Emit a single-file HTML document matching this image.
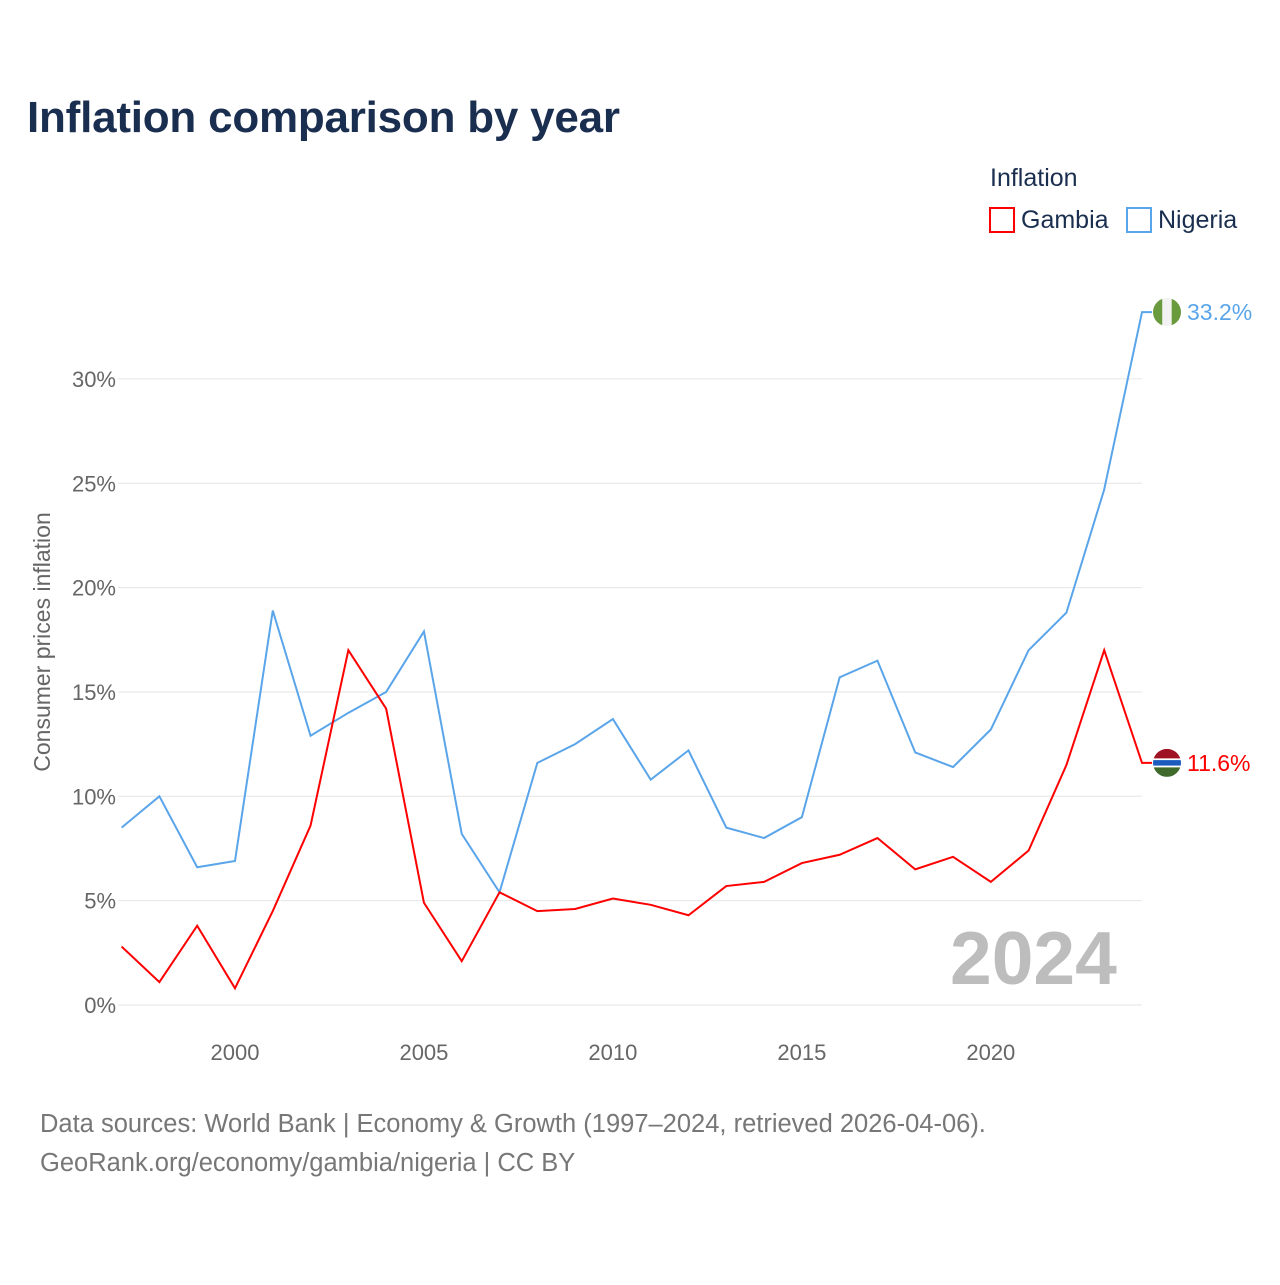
<!DOCTYPE html>
<html><head><meta charset="utf-8"><style>
body{margin:0;background:#fff;font-family:"Liberation Sans",sans-serif}
svg text{font-family:"Liberation Sans",sans-serif}
</style></head><body>
<svg width="1280" height="1280" xmlns="http://www.w3.org/2000/svg">
<text x="27" y="132" font-size="44" font-weight="bold" fill="#1a2e4f" textLength="593">Inflation comparison by year</text>
<text x="990" y="186" font-size="25" fill="#1a2e4f">Inflation</text>
<g><rect x="990" y="208" width="24" height="24" fill="none" stroke="#f00" stroke-width="2"/><text x="1021" y="228" font-size="25" fill="#1a2e4f">Gambia</text></g>
<g><rect x="1127" y="208" width="24" height="24" fill="none" stroke="#5aa5ea" stroke-width="2"/><text x="1158" y="228" font-size="25" fill="#1a2e4f">Nigeria</text></g>
<g id="grid"></g>
<g id="yt"></g>
<g id="xt"></g>
<text x="950" y="984" font-size="75" font-weight="bold" fill="#bdbdbd">2024</text>
<text transform="translate(50,642) rotate(-90)" text-anchor="middle" font-size="23" fill="#666">Consumer prices inflation</text>
<g id="series"></g>
<text x="40" y="1132" font-size="25.5" fill="#777">Data sources: World Bank | Economy &amp; Growth (1997–2024, retrieved 2026-04-06).</text>
<text x="40" y="1171" font-size="25.5" fill="#777">GeoRank.org/economy/gambia/nigeria | CC BY</text>
</svg>
<script>
const years=[1997,1998,1999,2000,2001,2002,2003,2004,2005,2006,2007,2008,2009,2010,2011,2012,2013,2014,2015,2016,2017,2018,2019,2020,2021,2022,2023,2024];
const gambia=[2.8,1.1,3.8,0.8,4.5,8.6,17.0,14.2,4.9,2.1,5.4,4.5,4.6,5.1,4.8,4.3,5.7,5.9,6.8,7.2,8.0,6.5,7.1,5.9,7.4,11.5,17.0,11.6];
const nigeria=[8.5,10.0,6.6,6.9,18.9,12.9,14.0,15.0,17.9,8.2,5.4,11.6,12.5,13.7,10.8,12.2,8.5,8.0,9.0,15.7,16.5,12.1,11.4,13.2,17.0,18.8,24.7,33.2];
const yTicks=[0,5,10,15,20,25,30];
const xTicks=[2000,2005,2010,2015,2020];
const NS="http://www.w3.org/2000/svg";
const X=y=>121.6+(y-1997)*(1142-121.6)/27;
const Y=v=>1005-v*20.87;
function mk(t,a,p){const e=document.createElementNS(NS,t);for(const k in a)e.setAttribute(k,a[k]);p.appendChild(e);return e;}
const grid=document.getElementById('grid'),yt=document.getElementById('yt'),xt=document.getElementById('xt'),se=document.getElementById('series');
yTicks.forEach(v=>{
 const l=mk('line',{x1:118,x2:1142,y1:Y(v),y2:Y(v),stroke:'#e6e6e6','stroke-width':1},grid);
 
 
 const t=mk('text',{x:116,y:Y(v)+8,'text-anchor':'end','font-size':22,fill:'#666'},yt);t.textContent=v+'%';
 
 
});
xTicks.forEach(v=>{
 const t=mk('text',{x:X(v),y:1060,'text-anchor':'middle','font-size':22,fill:'#666'},xt);t.textContent=v;
 
 
});
function series(vals,col,name,flag){
 const pts=vals.map((v,i)=>X(years[i])+','+Y(v));
 const last=Y(vals[vals.length-1]);
 const p=mk('polyline',{points:pts.join(' ')+' 1152,'+last,fill:'none',stroke:col,'stroke-width':2},se);
 
 
 const g=mk('g',{},se);
 
 
 const cx=1167,cy=last;
 const cp=mk('clipPath',{id:'c'+name},g);
 mk('circle',{cx:cx,cy:cy,r:14},cp);
 const gg=mk('g',{'clip-path':'url(#c'+name+')'},g);
 flag.forEach(f=>mk('rect',{x:cx-14+f[0]*28,y:cy-14+f[1]*28,width:f[2]*28,height:f[3]*28,fill:f[4]},gg));
 const t=mk('text',{x:1187,y:cy+8,'font-size':23,fill:col},se);t.textContent=vals[vals.length-1].toFixed(1)+'%';
 
 
}
series(nigeria,'#5aa5ea','nigeria',[[0,0,1/3,1,'#6a9a3e'],[1/3,0,1/3,1,'#f2f2f2'],[2/3,0,1/3,1,'#6a9a3e']]);
series(gambia,'#f00','gambia',[[0,0,1,0.34,'#9e1224'],[0,0.34,1,0.06,'#fff'],[0,0.40,1,0.2,'#1b5bbd'],[0,0.60,1,0.06,'#fff'],[0,0.66,1,0.34,'#3f6a2c']]);
</script>
</body></html>
